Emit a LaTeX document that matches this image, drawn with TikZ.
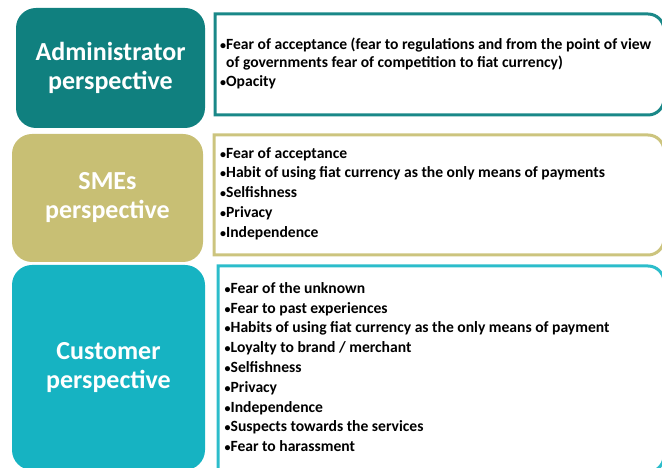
\documentclass[tikz,border=0pt]{standalone}
\usepackage{fontspec}
\setmainfont{Carlito}
\definecolor{adm}{HTML}{10807F}
\definecolor{sme}{HTML}{C8BF74}
\definecolor{cus}{HTML}{16B3C2}
\definecolor{admb}{HTML}{1A8888}
\definecolor{smeb}{HTML}{CCC47E}
\definecolor{cusb}{HTML}{2CBDCB}
\newcommand{\bul}{{\fontsize{12}{12}\selectfont •}}
\tikzset{
  titlebox/.style={rounded corners=20pt, inner sep=0pt, text=white, align=center,
    font=\fontsize{26}{29}\selectfont\bfseries},
  listtext/.style={anchor=west, inner sep=0pt, align=left,
    font=\fontsize{15.6}{19.8}\selectfont\bfseries},
  framebox/.style={line width=3pt},
}
\newcommand{\rightbox}[6]{% color x1 y1 x2 y2 r  (y up)
  \draw[framebox,draw=#1] (#2,#3) -- (#4-#6,#3) arc[start angle=90,end angle=0,radius=#6]
    -- (#4,#5+#6) arc[start angle=0,end angle=-90,radius=#6] -- (#2,#5) -- cycle;}
\begin{document}
\begin{tikzpicture}[x=1pt,y=1pt]
\useasboundingbox (0,0) rectangle (662,468);
% left boxes
\node[titlebox, fill=adm, minimum width=189pt, minimum height=120pt] (adm) at (110.5,400) {Administrator\\perspective};
\node[titlebox, fill=sme, minimum width=191pt, minimum height=128pt] (sme) at (107.5,270) {SMEs\\perspective};
\node[titlebox, fill=cus, minimum width=193pt, minimum height=205pt] (cus) at (108.5,100.5) {Customer\\perspective};
% right boxes
\rightbox{admb}{215}{454}{664}{353}{16}
\rightbox{smeb}{214}{333}{664}{213}{16}
\rightbox{cusb}{218}{202}{664}{-4}{16}
% texts
\node[listtext, font=\fontsize{15.6}{18}\selectfont\bfseries] (admt) at (220,404.5) {%
\bul Fear of acceptance (fear to regulations and from the point of view\\
\hphantom{\bul}of governments fear of competition to fiat currency)\\[1pt]
\bul Opacity};
\node[listtext] (smet) at (220,274.5) {%
\bul Fear of acceptance\\
\bul Habit of using fiat currency as the only means of payments\\
\bul Selfishness\\
\bul Privacy\\
\bul Independence};
\node[listtext] (cust) at (224.5,101) {%
\bul Fear of the unknown\\
\bul Fear to past experiences\\
\bul Habits of using fiat currency as the only means of payment\\
\bul Loyalty to brand / merchant\\
\bul Selfishness\\
\bul Privacy\\
\bul Independence\\
\bul Suspects towards the services\\
\bul Fear to harassment};
\end{tikzpicture}
\end{document}
